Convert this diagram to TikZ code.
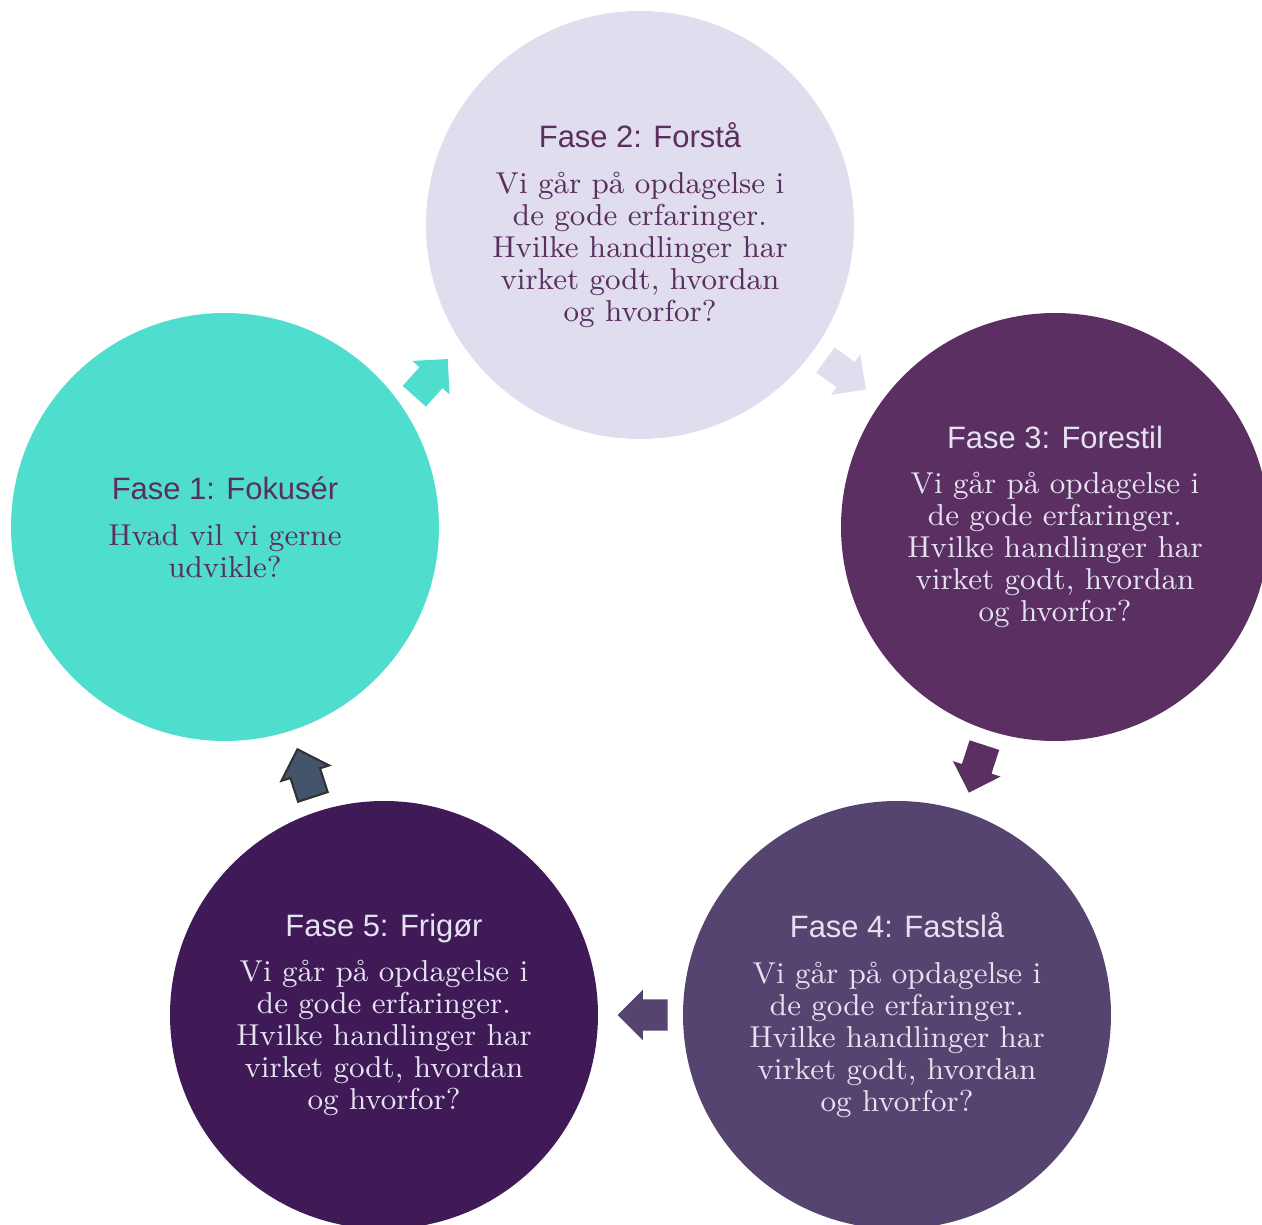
\documentclass[tikz,border=0pt]{standalone}
\usepackage{fontspec}
\newfontfamily\fasefont{Liberation Sans}
\usepackage{tikz}
\usetikzlibrary{shapes.arrows,calc}
\definecolor{fase1}{HTML}{4FDDCE}
\definecolor{fase2}{HTML}{DFDDEE}
\definecolor{fase3}{HTML}{5B2F61}
\definecolor{fase4}{HTML}{564470}
\definecolor{fase5}{HTML}{3F1A56}
\definecolor{pil5}{HTML}{44546A}
\definecolor{moerk}{HTML}{5A2F60}
\definecolor{lys}{HTML}{E4E2F1}
\newcommand{\overskrift}[1]{{\fasefont\fontsize{8.8}{9.1}\selectfont #1}\\[3.9pt]}

\begin{document}
\begin{tikzpicture}[x=0.1mm,y=0.1mm]
        \tikzstyle{fase} = [circle, minimum size=42.8mm, inner sep=0pt, align=center, font=\fontsize{8.6}{9.1}\selectfont]
        \tikzstyle{pil} = [single arrow, minimum height=5mm, single arrow head extend=0.95mm, inner xsep=0pt, inner ysep=1.45mm, line width=0.6pt]
        \useasboundingbox (0,0) rectangle (1262,1225);
        \clip (0,0) rectangle (1262,1225);
        \node[fase, fill=fase1, text=moerk] (f1) at (225,698) {\overskrift{Fase 1: Fokusér}Hvad vil vi gerne\\udvikle?};
        \node[fase, fill=fase2, text=moerk] (f2) at (640,1000) {\overskrift{Fase 2: Forstå}Vi går på opdagelse i\\de gode erfaringer.\\Hvilke handlinger har\\virket godt, hvordan\\og hvorfor?};
        \node[fase, fill=fase3, text=lys] (f3) at (1055,698) {\overskrift{Fase 3: Forestil}Vi går på opdagelse i\\de gode erfaringer.\\Hvilke handlinger har\\virket godt, hvordan\\og hvorfor?};
        \node[fase, fill=fase4, text=lys] (f4) at (897,210) {\overskrift{Fase 4: Fastslå}Vi går på opdagelse i\\de gode erfaringer.\\Hvilke handlinger har\\virket godt, hvordan\\og hvorfor?};
        \node[fase, fill=fase5, text=lys] (f5) at (384,210) {\overskrift{Fase 5: Frigør}Vi går på opdagelse i\\de gode erfaringer.\\Hvilke handlinger har\\virket godt, hvordan\\og hvorfor?};
        \foreach \from/\to/\ang/\col/\kant in {f1/f2/48/fase1/none, f2/f3/-36/fase2/none, f3/f4/-108/fase3/none, f4/f5/180/fase4/none, f5/f1/108/pil5/black!80}
            \node[pil, fill=\col, draw=\kant, rotate=\ang, xshift=-1mm] at ($(\from)!0.5!(\to)$) {};
\end{tikzpicture}
\end{document}
